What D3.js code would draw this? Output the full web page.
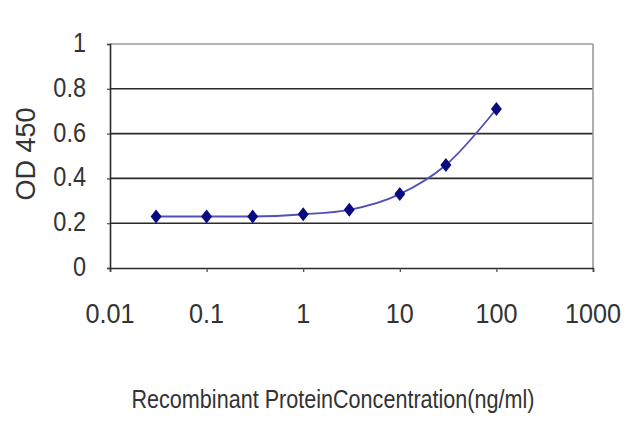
<!DOCTYPE html>
<html>
<head>
<meta charset="utf-8">
<script src="https://cdn.jsdelivr.net/npm/d3@7"></script>
<style>
  html, body { margin: 0; padding: 0; background: #fff; }
  svg { display: block; }
  text { font-family: "Liberation Sans", Arial, sans-serif; fill: #333; }
</style>
</head>
<body>
<svg id="chart" width="640" height="427"></svg>
<script>
// ---- data ----
const concentrations = [0.03, 0.1, 0.3, 1, 3, 10, 30, 100];
const odValues = [0.23, 0.23, 0.23, 0.24, 0.26, 0.33, 0.46, 0.71];
const xTicks = [0.01, 0.1, 1, 10, 100, 1000];
const xTickLabels = ["0.01", "0.1", "1", "10", "100", "1000"];
const yTicks = [0, 0.2, 0.4, 0.6, 0.8, 1];
const yTickLabels = ["0", "0.2", "0.4", "0.6", "0.8", "1"];
const xTitle = "Recombinant ProteinConcentration(ng/ml)";
const yTitle = "OD 450";

// ---- layout ----
const svg = d3.select("#chart");
const plotLeft = 110, plotRight = 593, plotTop = 44, plotBottom = 268;

const x = d3.scaleLog().domain([0.01, 1000]).range([plotLeft, plotRight]);
const y = d3.scaleLinear().domain([0, 1]).range([plotBottom, plotTop]);

// gridlines
svg.append("g").selectAll("line")
  .data(yTicks.filter(d => d > 0 && d < 1))
  .join("line")
  .attr("x1", plotLeft).attr("x2", plotRight)
  .attr("y1", d => y(d)).attr("y2", d => y(d))
  .attr("stroke", "#2a2a2a").attr("stroke-width", 1.6);

// top and right border (light gray)
svg.append("line").attr("x1", plotLeft).attr("x2", plotRight)
  .attr("y1", y(1)).attr("y2", y(1))
  .attr("stroke", "#9a9a9a").attr("stroke-width", 1.6);
svg.append("line").attr("x1", plotRight).attr("x2", plotRight)
  .attr("y1", y(1)).attr("y2", y(0))
  .attr("stroke", "#9a9a9a").attr("stroke-width", 1.6);

// axes
const xAxis = d3.axisBottom(x).tickValues(xTicks).tickSize(4).tickFormat("");
const gx = svg.append("g").attr("transform", `translate(0,${plotBottom})`).call(xAxis);
gx.select(".domain").attr("stroke", "#2a2a2a").attr("stroke-width", 1.6);
gx.selectAll(".tick line").attr("stroke", "#444").attr("stroke-width", 1.2);

const yAxis = d3.axisLeft(y).tickValues(yTicks).tickSize(3).tickFormat("");
const gy = svg.append("g").attr("transform", `translate(${plotLeft},0)`).call(yAxis);
gy.select(".domain").attr("stroke", "#2a2a2a").attr("stroke-width", 1.6);
gy.selectAll(".tick line").attr("stroke", "#444").attr("stroke-width", 1.2);

// tick labels
svg.append("g").selectAll("text")
  .data(xTicks)
  .join("text")
  .attr("transform", d => `translate(${x(d)},${plotBottom + 55}) scale(0.9,1)`)
  .attr("text-anchor", "middle")
  .style("font-size", "28px")
  .text((d, i) => xTickLabels[i]);

svg.append("g").selectAll("text")
  .data(yTicks)
  .join("text")
  .attr("transform", d => `translate(86,${y(d) + 8}) scale(0.87,1)`)
  .attr("text-anchor", "end")
  .style("font-size", "27px")
  .text((d, i) => yTickLabels[i]);

// axis titles
svg.append("text")
  .attr("transform", `translate(35,154) rotate(-90)`)
  .attr("text-anchor", "middle")
  .style("font-size", "27px")
  .text(yTitle);

svg.append("text")
  .attr("x", 333).attr("y", 408)
  .attr("text-anchor", "middle")
  .attr("textLength", 403)
  .attr("lengthAdjust", "spacingAndGlyphs")
  .style("font-size", "26px")
  .text(xTitle);

// series line
const pts = concentrations.map((c, i) => [c, odValues[i]]);
const line = d3.line()
  .x(d => x(d[0])).y(d => y(d[1]))
  .curve(d3.curveMonotoneX);
svg.append("path")
  .datum(pts)
  .attr("d", line)
  .attr("fill", "none")
  .attr("stroke", "#5050b8")
  .attr("stroke-width", 1.8);

// diamond markers
const diamond = {
  draw(ctx, size) {
    const w = 5.5, h = 7;
    ctx.moveTo(0, -h); ctx.lineTo(w, 0); ctx.lineTo(0, h); ctx.lineTo(-w, 0); ctx.closePath();
  }
};
svg.append("g").selectAll("path")
  .data(pts)
  .join("path")
  .attr("transform", d => `translate(${x(d[0])},${y(d[1])})`)
  .attr("d", d3.symbol().type(diamond).size(64)())
  .attr("fill", "#0a0a80");
</script>
</body>
</html>
